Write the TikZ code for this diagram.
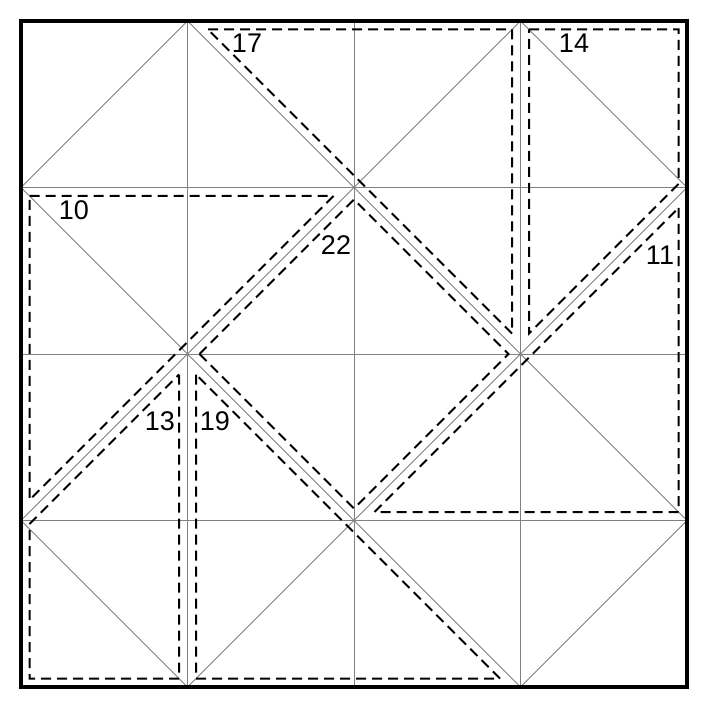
\documentclass[tikz,border=0pt]{standalone}
\usepackage{fontspec}
\setmainfont{Liberation Sans}
\begin{document}
\begin{tikzpicture}[x=1pt,y=-1pt,
  gridline/.style={draw=black!50,line width=0.8pt},
  frame/.style={draw=black,line width=4pt},
  foldpath/.style={draw=black,line width=2pt,dash pattern=on 10pt off 6pt,line join=miter},
  lbl/.style={font=\fontsize{27}{30}\selectfont,inner sep=0pt}]
\useasboundingbox[fill=white] (0,0) rectangle (708,708);
% grid
\foreach \i in {1,2,3} {
  \draw[gridline] ({21+166.5*\i},21) -- ({21+166.5*\i},687);
  \draw[gridline] (21,{21+166.5*\i}) -- (687,{21+166.5*\i});
}
% diagonals
\begin{scope}
\clip (21,21) rectangle (687,687);
\foreach \k in {1,3,5,7} {
  \draw[gridline] ({21+166.5*(\k-4)},{21+166.5*4}) -- ({21+166.5*\k},21);
}
\foreach \k in {-3,-1,1,3} {
  \draw[gridline] ({21+166.5*\k},21) -- ({21+166.5*(\k+4)},{21+166.5*4});
}
\end{scope}
% fold polygons
\draw[foldpath] (29.5,196) -- (333.5,196) -- (29.5,500) -- cycle;
\draw[foldpath] (208,29.5) -- (512,29.5) -- (512,333.5) -- cycle;
\draw[foldpath] (529,29.5) -- (678.5,29.5) -- (678.5,184) -- (529,333.5) -- cycle;
\draw[foldpath] (678.5,208) -- (678.5,512) -- (374.5,512) -- cycle;
\draw[foldpath] (199.5,354) -- (354,199.5) -- (508.5,354) -- (354,508.5) -- cycle;
\draw[foldpath] (179,374.5) -- (179,678.5) -- (29.5,678.5) -- (29.5,524) -- cycle;
\draw[foldpath] (196,374.5) -- (196,678.5) -- (500,678.5) -- cycle;
% frame
\draw[frame] (21,21) rectangle (687,687);
% labels
\node[lbl] (l10) at (74,210) {10};
\node[lbl] (l17) at (247,43) {17};
\node[lbl] (l14) at (574,43) {14};
\node[lbl] (l22) at (336,245) {22};
\node[lbl] (l11) at (660,255) {11};
\node[lbl] (l13) at (160,421) {13};
\node[lbl] (l19) at (215,421) {19};
\end{tikzpicture}
\end{document}
